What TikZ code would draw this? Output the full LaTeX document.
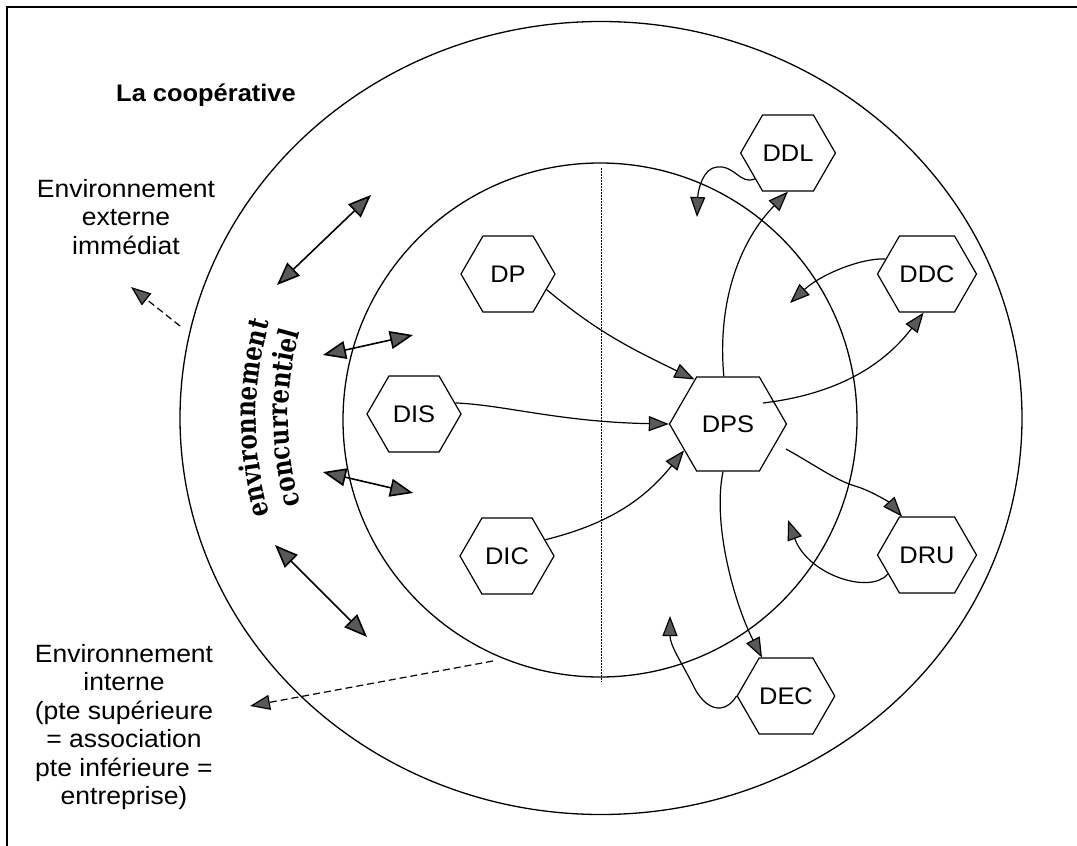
\documentclass[tikz,border=0pt]{standalone}
\usepackage{fontspec}
\setmainfont[FakeStretch=1.06]{Liberation Sans}
\newfontfamily\envserif[FakeStretch=0.82]{DejaVu Serif}
\usetikzlibrary{shapes.symbols,arrows.meta,decorations.text,calc}
\begin{document}
\begin{tikzpicture}[x=1pt,y=-1pt,
  >={Triangle[length=20pt,width=15pt,fill=black!65]},
  hexa/.style={draw, fill=white, line width=1.2pt, shape=signal, signal to=west and east,
    signal pointer angle=120, minimum width=94pt, minimum height=76pt, inner sep=0pt,
    font=\fontsize{24}{28}\selectfont},
  bighexa/.style={minimum width=117pt, minimum height=94pt},
  conn/.style={line width=1.2pt, ->},
  dbl/.style={line width=1.6pt, {Triangle[length=23pt,width=18pt,fill=black!65]}-{Triangle[length=23pt,width=18pt,fill=black!65]}},
  dasharrow/.style={line width=1.2pt, dash pattern=on 7pt off 4pt, ->},
  ring/.style={line width=1.3pt},
  lbl/.style={align=center, font=\fontsize{25}{28.5}\selectfont},
  envtext/.style={decorate, decoration={text along path, text align=center,
    text={|\envserif\bfseries\fontsize{28}{28}\selectfont|#1}}}
]
\useasboundingbox (0,0) rectangle (1077,846);
% frame (top and left)
\draw[line width=1.5pt] (7,846) -- (7,7) -- (1077,7);
% rings
\coordinate (O) at (601,418);
\draw[ring] (O) ellipse [x radius=421, y radius=396.5];
\draw[ring] (600,420) circle [radius=257];
\draw[line width=1pt, dash pattern=on 1.5pt off 1.5pt] (601,168) -- (601,682);

% labels
\node[font=\bfseries\fontsize{24}{28}\selectfont] (title) at (206,95) {La coopérative};
\node[lbl] (ext) at (126,217) {Environnement\\externe\\immédiat};
\node[lbl] (int) at (124,727) {Environnement\\interne\\(pte supérieure\\= association\\pte inférieure =\\entreprise)};

% curved text
\path[envtext=environnement] (O) ++(150:345) arc[start angle=150, end angle=210, radius=345];
\path[envtext=concurrentiel] (O) ++(150:313) arc[start angle=150, end angle=210, radius=313];

% hexagon nodes
\node[hexa] (DP) at (508,274) {DP};
\node[hexa] (DIS) at (414,414) {DIS};
\node[hexa] (DIC) at (507,556) {DIC};
\node[hexa,bighexa] (DPS) at (728,424) {DPS};
\node[hexa] (DDL) at (788,153) {DDL};
\node[hexa] (DDC) at (927,274) {DDC};
\node[hexa] (DRU) at (927,555) {DRU};
\node[hexa] (DEC) at (786,696) {DEC};

% free ends
\coordinate (t5) at (697,217);
\coordinate (t7) at (790,303);
\coordinate (t9) at (788,520);
\coordinate (t11) at (670,616);
\coordinate (a1s) at (277,285); \coordinate (a1e) at (371,195);
\coordinate (a2s) at (323,355); \coordinate (a2e) at (413,335);
\coordinate (a3s) at (323,472); \coordinate (a3e) at (413,493);
\coordinate (a4s) at (275,545); \coordinate (a4e) at (367,637);
\coordinate (d1s) at (180,326); \coordinate (d1e) at (131,287);
\coordinate (d2s) at (493,661); \coordinate (d2e) at (250,706);

% connectors to DPS
\draw[conn] (DP.-22) to[out=-40,in=154] (DPS.127);
\draw[conn] (DIS.15) .. controls (505,405) and (560,422) .. (DPS.180);
\draw[conn] (DIC.23) to[out=14,in=231] (DPS.211);
% DPS outwards
\draw[conn] (DPS.95) .. controls +(-7,-77) and +(-47,48) .. (DDL.270);
\draw[conn] (DDL.218) .. controls (740,185) and (735,165) .. (717,167) .. controls (703,168) and (698,190) .. (t5);
\draw[conn] ($(DPS)+(35,-21)$) .. controls (830,395) and (880,370) .. (DDC.265);
\draw[conn] (DDC.160) .. controls (860,258) and (820,275) .. (t7);
\draw[conn] ($(DPS)+(58,25)$) .. controls (815,465) and (835,480) .. (855,486) .. controls (872,491) and (890,503) .. (DRU.123);
\draw[conn] (DRU.206) .. controls (870,595) and (808,575) .. (t9);
\draw[conn] (DPS.264) .. controls (712,525) and (735,605) .. (DEC.122);
\draw[conn] (DEC.180) .. controls (725,715) and (705,712) .. (692,683) .. controls (680,660) and (670,645) .. (t11);

% double arrows
\draw[dbl] (a1s) -- (a1e);
\draw[dbl] (a2s) -- (a2e);
\draw[dbl] (a3s) -- (a3e);
\draw[dbl] (a4s) -- (a4e);
% dashed arrows
\draw[dasharrow] (d1s) -- (d1e);
\draw[dasharrow] (d2s) -- (d2e);
\end{tikzpicture}
\end{document}
